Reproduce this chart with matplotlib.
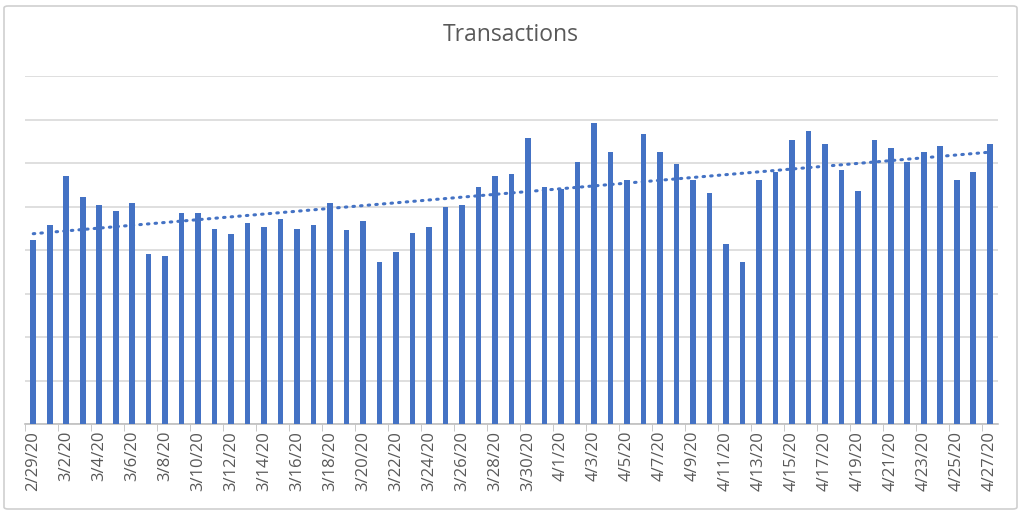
import matplotlib.pyplot as plt
import numpy as np
import pandas as pd
from matplotlib.patches import FancyBboxPatch

# daily transactions, in gridline units (no axis values shown)
fechas = pd.date_range("2020-02-29", "2020-04-27", freq="D")
transacciones = [
    4.22, 4.58, 5.71, 5.22, 5.03, 4.90, 5.08, 3.91, 3.87, 4.86,
    4.86, 4.49, 4.36, 4.63, 4.54, 4.72, 4.49, 4.58, 5.08, 4.45,
    4.67, 3.73, 3.95, 4.40, 4.54, 4.99, 5.03, 5.44, 5.71, 5.75,
    6.57, 5.44, 5.40, 6.03, 6.93, 6.25, 5.62, 6.66, 6.25, 5.98,
    5.62, 5.30, 4.14, 3.73, 5.62, 5.80, 6.52, 6.74, 6.43, 5.85,
    5.35, 6.52, 6.34, 6.03, 6.25, 6.39, 5.62, 5.80, 6.43,
]
etiquetas = [f"{d.month}/{d.day}/{d.strftime('%y')}" for d in fechas]

azul = "#4472C4"
gris = "#595959"

fig = plt.figure(figsize=(10.24, 5.13), dpi=100)
ax = fig.add_axes([25 / 1024, 1 - 424 / 513, 973 / 1024, (424 - 76) / 513])

x = np.arange(len(transacciones))
ax.bar(x, transacciones, width=0.34, color=azul, zorder=3)

# linear trendline (dotted)
coef = np.polyfit(x, transacciones, 1)
ax.plot(x, np.polyval(coef, x), color=azul, linewidth=2.2,
        linestyle=(0, (0.5, 2.0)), dash_capstyle="round", zorder=4)

ax.set_xlim(-0.5, len(x) - 0.5)
ax.set_ylim(0, 8)
ax.set_yticks(np.arange(0, 9, 1))
ax.yaxis.grid(True, color="#D9D9D9", linewidth=1.2)
ax.tick_params(axis="y", left=False, labelleft=False)

ax.set_xticks(x[::2])
ax.set_xticklabels(etiquetas[::2], rotation=90, fontsize=12,
                   color=gris, family="Open Sans")
ax.set_xticks(np.arange(-0.5, len(x), 2), minor=True)
ax.tick_params(axis="x", which="major", length=0, pad=5)
ax.tick_params(axis="x", which="minor", length=5, color="#BFBFBF")

for lado in ["top", "right", "left"]:
    ax.spines[lado].set_visible(False)
ax.spines["bottom"].set_color("#BFBFBF")
ax.spines["bottom"].set_linewidth(1.2)

fig.text(511 / 1024, 1 - 35 / 513, "Transactions", ha="center", va="center",
         fontsize=16.5, color=gris, family="Open Sans")

borde = FancyBboxPatch((4 / 1024, 4 / 513), 1013 / 1024, 503 / 513,
                       boxstyle="round,pad=0,rounding_size=0.004",
                       transform=fig.transFigure, fill=False,
                       edgecolor="#D0D0D0", linewidth=1.2)
fig.patches.append(borde)

fig.savefig("out.png", dpi=100)
